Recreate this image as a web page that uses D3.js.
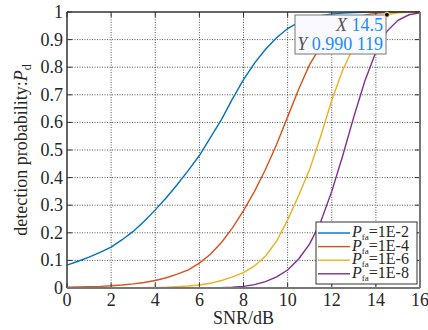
<!DOCTYPE html>
<html>
<head>
<meta charset="utf-8">
<script src="https://cdn.jsdelivr.net/npm/d3@7"></script>
<style>
  body { margin: 0; background: #fff; }
  svg { display: block; }
  svg text { font-family: "Liberation Serif", "Times New Roman", "DejaVu Serif", serif; }
</style>
</head>
<body>
<svg id="chart" width="428" height="330"></svg>
<script>
// SNR in dB, 0.5 dB steps
const snr = [0,0.5,1,1.5,2,2.5,3,3.5,4,4.5,5,5.5,6,6.5,7,7.5,8,8.5,9,9.5,10,10.5,11,11.5,12,12.5,13,13.5,14,14.5,15,15.5,16];

const pd2 = [0.083,0.097,0.112,0.129,0.148,0.175,0.205,0.242,0.283,0.327,0.375,0.426,0.48,0.545,0.61,0.685,0.755,0.815,0.865,0.907,0.94,0.962,0.977,0.987,0.993,0.996,0.998,0.999,0.9995,1,1,1,1];
const pd4 = [0.003,0.004,0.005,0.006,0.008,0.011,0.015,0.02,0.027,0.037,0.05,0.066,0.09,0.122,0.165,0.218,0.28,0.35,0.43,0.52,0.62,0.72,0.81,0.875,0.925,0.957,0.977,0.989,0.995,0.998,0.999,1,1];
const pd6 = [0.0001,0.0001,0.0002,0.0003,0.0004,0.0006,0.0008,0.0012,0.002,0.003,0.005,0.007,0.011,0.017,0.027,0.04,0.056,0.08,0.116,0.17,0.247,0.335,0.43,0.55,0.68,0.79,0.875,0.935,0.97,0.990119,0.997,0.999,1];
const pd8 = [0,0,0,0,0,0,0.0001,0.0001,0.0002,0.0002,0.0003,0.0005,0.0007,0.001,0.0015,0.003,0.006,0.012,0.023,0.04,0.065,0.105,0.16,0.24,0.35,0.48,0.62,0.75,0.855,0.93,0.97,0.99,0.997];

const seriesNames = ["1E-2", "1E-4", "1E-6", "1E-8"];
const seriesValues = [pd2, pd4, pd6, pd8];
const colors = ["#0072BD", "#D95319", "#EDB120", "#7E2F8E"];

const xTicks = d3.range(0, 17, 2);
const yTicks = d3.range(0, 11).map(d => d / 10);

// data tip
const tipX = 14.5, tipY = 0.990119;

const svg = d3.select("#chart");
const mLeft = 67, mRight = 420, mTop = 12, mBottom = 288;

const x = d3.scaleLinear().domain([0, 16]).range([mLeft, mRight]);
const y = d3.scaleLinear().domain([0, 1]).range([mBottom, mTop]);

// grid
svg.append("g").selectAll("line")
  .data(xTicks.slice(1, -1))
  .join("line")
    .attr("x1", d => x(d)).attr("x2", d => x(d))
    .attr("y1", mTop).attr("y2", mBottom)
    .attr("stroke", "#555").attr("stroke-width", 1)
    .attr("stroke-dasharray", "1,1.5");
svg.append("g").selectAll("line")
  .data(yTicks.slice(1, -1))
  .join("line")
    .attr("y1", d => y(d)).attr("y2", d => y(d))
    .attr("x1", mLeft).attr("x2", mRight)
    .attr("stroke", "#555").attr("stroke-width", 1)
    .attr("stroke-dasharray", "1,1.5");

// curves
const line = d3.line()
  .x((d, i) => x(snr[i]))
  .y(d => y(d));

svg.append("g").selectAll("path")
  .data(seriesValues)
  .join("path")
    .attr("d", d => line(d))
    .attr("fill", "none")
    .attr("stroke", (d, i) => colors[i])
    .attr("stroke-width", 1.4);

// axes box + inward ticks
const tickLen = 5;
const axisG = svg.append("g").attr("stroke", "#333").attr("stroke-width", 1);
axisG.append("g").selectAll("line")
  .data(xTicks)
  .join("line")
    .attr("x1", d => x(d)).attr("x2", d => x(d))
    .attr("y1", mBottom).attr("y2", mBottom - tickLen);
axisG.append("g").selectAll("line")
  .data(xTicks)
  .join("line")
    .attr("x1", d => x(d)).attr("x2", d => x(d))
    .attr("y1", mTop).attr("y2", mTop + tickLen);
axisG.append("g").selectAll("line")
  .data(yTicks)
  .join("line")
    .attr("y1", d => y(d)).attr("y2", d => y(d))
    .attr("x1", mLeft).attr("x2", mLeft + tickLen);
axisG.append("g").selectAll("line")
  .data(yTicks)
  .join("line")
    .attr("y1", d => y(d)).attr("y2", d => y(d))
    .attr("x1", mRight).attr("x2", mRight - tickLen);

svg.append("line").attr("x1", mLeft).attr("x2", mRight).attr("y1", mTop).attr("y2", mTop)
  .attr("stroke", "#333").attr("stroke-width", 1.5);
svg.append("line").attr("x1", mLeft).attr("x2", mLeft).attr("y1", mTop).attr("y2", mBottom)
  .attr("stroke", "#333").attr("stroke-width", 1.5);
svg.append("line").attr("x1", mLeft).attr("x2", mRight).attr("y1", mBottom).attr("y2", mBottom)
  .attr("stroke", "#777").attr("stroke-width", 2);
svg.append("line").attr("x1", mRight).attr("x2", mRight).attr("y1", mTop).attr("y2", mBottom)
  .attr("stroke", "#777").attr("stroke-width", 2);

// tick labels
svg.append("g").selectAll("text")
  .data(xTicks)
  .join("text")
    .attr("x", d => x(d)).attr("y", 306)
    .attr("text-anchor", "middle")
    .attr("font-size", 18).attr("fill", "#262626")
    .text(d => d);
svg.append("g").selectAll("text")
  .data(yTicks)
  .join("text")
    .attr("x", 63).attr("y", d => y(d) + 6)
    .attr("text-anchor", "end")
    .attr("font-size", 18).attr("fill", "#262626")
    .text(d => d);

// axis labels
svg.append("text")
  .attr("x", (mLeft + mRight) / 2).attr("y", 324)
  .attr("text-anchor", "middle").attr("font-size", 18).attr("fill", "#262626")
  .text("SNR/dB");

const yl = svg.append("text")
  .attr("transform", "translate(27,150) rotate(-90)")
  .attr("text-anchor", "middle").attr("font-size", 18).attr("fill", "#262626");
yl.append("tspan").text("detection probability:");
yl.append("tspan").attr("font-style", "italic").text("P");
yl.append("tspan").attr("font-size", 12).attr("dy", 4).text("d");

// legend
const lg = svg.append("g");
lg.append("rect")
  .attr("x", 316).attr("y", 222).attr("width", 101).attr("height", 62)
  .attr("fill", "#fff").attr("stroke", "#333").attr("stroke-width", 1);
seriesNames.forEach((name, i) => {
  const cy = 233 + i * 13.6;
  lg.append("line")
    .attr("x1", 318).attr("x2", 350).attr("y1", cy).attr("y2", cy)
    .attr("stroke", colors[i]).attr("stroke-width", 1.4);
  const t = lg.append("text")
    .attr("x", 352).attr("y", cy + 4)
    .attr("font-size", 16).attr("fill", "#262626");
  t.append("tspan").attr("font-style", "italic").text("P");
  t.append("tspan").attr("font-size", 9).attr("dy", 3).text("fa");
  t.append("tspan").attr("dy", -3).text("=" + name);
});

// data tip
const tg = svg.append("g");
tg.append("rect")
  .attr("x", 295).attr("y", 15).attr("width", 91).attr("height", 39)
  .attr("fill", "#f9f9ff").attr("stroke", "#777").attr("stroke-width", 1);
const t1 = tg.append("text").attr("x", 383).attr("y", 31)
  .attr("text-anchor", "end").attr("font-size", 18);
t1.append("tspan").attr("font-style", "italic").attr("fill", "#555").text("X ");
t1.append("tspan").attr("fill", "#1a8cff").text(String(tipX));
const t2 = tg.append("text").attr("x", 383).attr("y", 50)
  .attr("text-anchor", "end").attr("font-size", 18);
t2.append("tspan").attr("font-style", "italic").attr("fill", "#555").text("Y ");
t2.append("tspan").attr("fill", "#1a8cff").text("0.990 119");
tg.append("circle")
  .attr("cx", x(tipX)).attr("cy", y(tipY)).attr("r", 2.5)
  .attr("fill", "#111").attr("stroke", "#ffe9a0").attr("stroke-width", 1);
</script>
</body>
</html>
